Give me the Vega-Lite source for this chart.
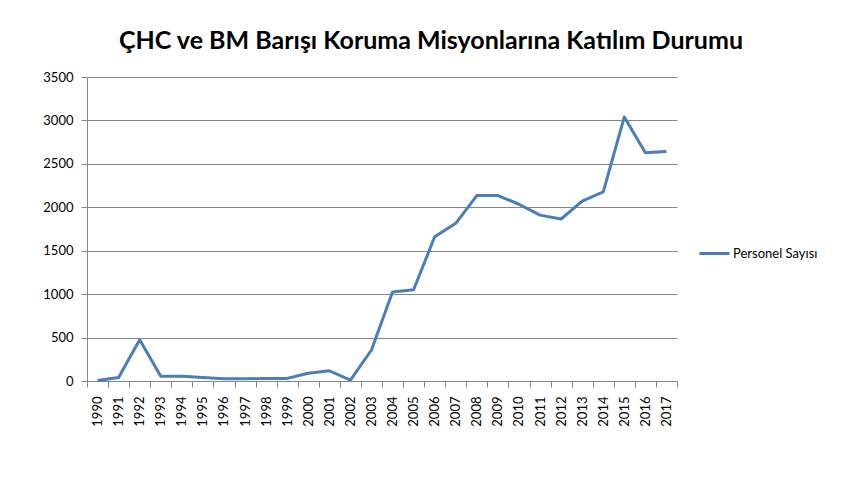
{
  "$schema": "https://vega.github.io/schema/vega-lite/v6.json",
  "width": 590,
  "height": 304,
  "autosize": "none",
  "padding": {"left": 87, "top": 77, "right": 169, "bottom": 106},
  "background": "white",
  "title": {
    "text": "ÇHC ve BM Barışı Koruma Misyonlarına Katılım Durumu",
    "font": "Lato",
    "fontSize": 25,
    "fontWeight": "bold",
    "color": "#000000",
    "anchor": "middle",
    "frame": "group",
    "dx": 49,
    "offset": 17
  },
  "data": {
    "values": [
      {"year": "1990", "value": 5, "series": "Personel Sayısı"},
      {"year": "1991", "value": 40, "series": "Personel Sayısı"},
      {"year": "1992", "value": 475, "series": "Personel Sayısı"},
      {"year": "1993", "value": 55, "series": "Personel Sayısı"},
      {"year": "1994", "value": 55, "series": "Personel Sayısı"},
      {"year": "1995", "value": 40, "series": "Personel Sayısı"},
      {"year": "1996", "value": 25, "series": "Personel Sayısı"},
      {"year": "1997", "value": 25, "series": "Personel Sayısı"},
      {"year": "1998", "value": 30, "series": "Personel Sayısı"},
      {"year": "1999", "value": 30, "series": "Personel Sayısı"},
      {"year": "2000", "value": 90, "series": "Personel Sayısı"},
      {"year": "2001", "value": 118, "series": "Personel Sayısı"},
      {"year": "2002", "value": 10, "series": "Personel Sayısı"},
      {"year": "2003", "value": 357, "series": "Personel Sayısı"},
      {"year": "2004", "value": 1025, "series": "Personel Sayısı"},
      {"year": "2005", "value": 1050, "series": "Personel Sayısı"},
      {"year": "2006", "value": 1660, "series": "Personel Sayısı"},
      {"year": "2007", "value": 1815, "series": "Personel Sayısı"},
      {"year": "2008", "value": 2135, "series": "Personel Sayısı"},
      {"year": "2009", "value": 2135, "series": "Personel Sayısı"},
      {"year": "2010", "value": 2035, "series": "Personel Sayısı"},
      {"year": "2011", "value": 1910, "series": "Personel Sayısı"},
      {"year": "2012", "value": 1865, "series": "Personel Sayısı"},
      {"year": "2013", "value": 2070, "series": "Personel Sayısı"},
      {"year": "2014", "value": 2178, "series": "Personel Sayısı"},
      {"year": "2015", "value": 3040, "series": "Personel Sayısı"},
      {"year": "2016", "value": 2627, "series": "Personel Sayısı"},
      {"year": "2017", "value": 2643, "series": "Personel Sayısı"}
    ]
  },
  "mark": {"type": "line", "strokeWidth": 3, "strokeJoin": "round"},
  "encoding": {
    "x": {
      "field": "year",
      "type": "ordinal",
      "scale": {"type": "band", "paddingInner": 0, "paddingOuter": 0},
      "axis": {
        "title": null,
        "tickBand": "extent",
        "labelAngle": -90,
        "labelAlign": "right",
        "labelBaseline": "middle",
        "labelPadding": 9,
        "tickSize": 6,
        "tickColor": "#868686",
        "domainColor": "#868686",
        "labelFont": "Lato",
        "labelFontSize": 13,
        "labelColor": "#000000",
        "grid": false
      }
    },
    "y": {
      "field": "value",
      "type": "quantitative",
      "scale": {"domain": [0, 3500], "nice": false},
      "axis": {
        "title": null,
        "values": [0, 500, 1000, 1500, 2000, 2500, 3000, 3500],
        "format": "d",
        "tickSize": 6,
        "tickColor": "#868686",
        "domainColor": "#868686",
        "gridColor": "#868686",
        "gridWidth": 1,
        "labelFont": "Lato",
        "labelFontSize": 13,
        "labelColor": "#000000",
        "labelPadding": 8
      }
    },
    "color": {
      "field": "series",
      "type": "nominal",
      "scale": {"range": ["#4a7ebb"]},
      "legend": {
        "title": null,
        "orient": "none",
        "legendX": 611,
        "legendY": 160,
        "symbolType": "stroke",
        "symbolSize": 900,
        "symbolStrokeWidth": 3,
        "labelFont": "Lato",
        "labelFontSize": 13,
        "labelColor": "#000000",
        "labelOffset": 2
      }
    }
  },
  "config": {"view": {"stroke": null}}
}
